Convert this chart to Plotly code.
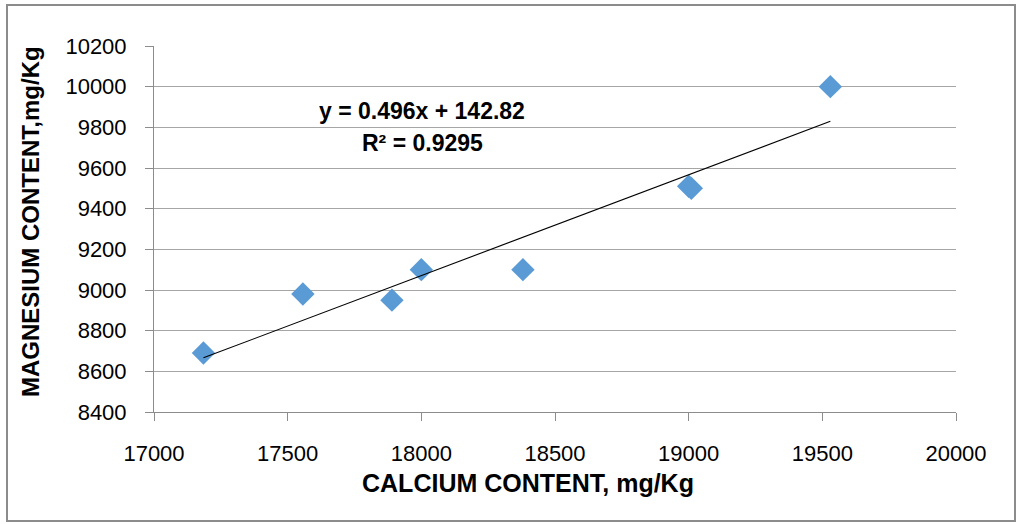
import plotly.graph_objects as go
import numpy as np

calcium = [17185, 17557, 17890, 18000, 18380, 19000, 19010, 19530]
magnesium = [8690, 8980, 8950, 9100, 9100, 9510, 9500, 10000]
slope = 0.496
intercept = 142.82
r2 = 0.9295
x_ticks = [17000, 17500, 18000, 18500, 19000, 19500, 20000]
y_ticks = [8400, 8600, 8800, 9000, 9200, 9400, 9600, 9800, 10000, 10200]

tx = np.array([min(calcium), max(calcium)])
ty = slope * tx + intercept

fig = go.Figure()
fig.add_trace(go.Scatter(x=calcium, y=magnesium, mode="markers",
                         marker=dict(symbol="diamond", size=18, color="#5B9BD5"),
                         showlegend=False))
fig.add_trace(go.Scatter(x=tx, y=ty, mode="lines",
                         line=dict(color="black", width=1.1), showlegend=False))

font_family = "Liberation Sans"
fig.update_layout(
    width=1020, height=524,
    margin=dict(l=154, r=64, t=46, b=112),
    paper_bgcolor="white", plot_bgcolor="white",
    font=dict(family=font_family, size=22, color="black"),
    xaxis=dict(range=[17000, 20000], tickvals=x_ticks, ticktext=[str(v) for v in x_ticks],
               showgrid=False, zeroline=False, showline=True, linecolor="#8C8C8C",
               linewidth=1, ticks="outside", ticklen=8, tickcolor="#8C8C8C",
               tickfont=dict(size=22), ticklabelstandoff=14),
    yaxis=dict(range=[8400, 10200], tickvals=y_ticks, ticktext=[str(v) for v in y_ticks],
               showgrid=True, gridcolor="#A6A6A6", gridwidth=1, zeroline=False,
               showline=True, linecolor="#8C8C8C", linewidth=1,
               ticks="outside", ticklen=8, tickcolor="#8C8C8C",
               tickfont=dict(size=22), ticklabelstandoff=14),
)

fig.add_annotation(text="<b>CALCIUM CONTENT, mg/Kg</b>", xref="paper", yref="paper",
                   x=(528 - 154) / 802, y=(412 - 483) / 366, showarrow=False,
                   font=dict(size=25), xanchor="center", yanchor="middle")
fig.add_annotation(text="<b>MAGNESIUM CONTENT,mg/Kg</b>", xref="paper", yref="paper",
                   x=(30 - 154) / 802, y=(412 - 222) / 366, showarrow=False,
                   font=dict(size=24), textangle=-90, xanchor="center", yanchor="middle")
fig.add_annotation(text=f"<b>y = {slope}x + {intercept}</b>", xref="paper", yref="paper",
                   x=(422 - 154) / 802, y=(412 - 111) / 366, showarrow=False,
                   font=dict(size=23), xanchor="center", yanchor="middle")
fig.add_annotation(text=f"<b>R² = {r2}</b>", xref="paper", yref="paper",
                   x=(422 - 154) / 802, y=(412 - 143) / 366, showarrow=False,
                   font=dict(size=23), xanchor="center", yanchor="middle")

fig.add_shape(type="rect", xref="paper", yref="paper",
              x0=(7 - 154) / 802, x1=(1015 - 154) / 802,
              y0=(412 - 521) / 366, y1=(412 - 5) / 366,
              line=dict(color="#8C8C8C", width=2), fillcolor="rgba(0,0,0,0)", layer="below")

fig.write_html("out.html")
